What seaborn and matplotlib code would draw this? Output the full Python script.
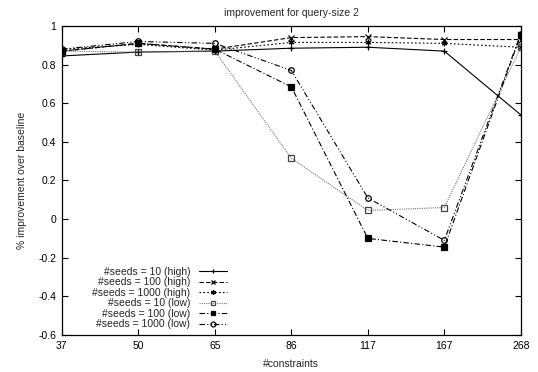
import numpy as np
import pandas as pd
import matplotlib
matplotlib.use("Agg")
import matplotlib.pyplot as plt
import seaborn as sns

# data
constraints = ["37", "50", "65", "86", "117", "167", "268"]
seeds10_high = [0.845, 0.865, 0.87, 0.885, 0.89, 0.87, 0.54]
seeds100_high = [0.87, 0.91, 0.88, 0.94, 0.945, 0.93, 0.93]
seeds1000_high = [0.88, 0.905, 0.875, 0.915, 0.915, 0.91, 0.89]
seeds10_low = [0.87, 0.865, 0.87, 0.315, 0.045, 0.06, 0.89]
seeds100_low = [0.87, 0.91, 0.88, 0.685, -0.10, -0.145, 0.955]
seeds1000_low = [0.88, 0.92, 0.91, 0.77, 0.11, -0.11, 0.96]

series = [
    ("#seeds = 10 (high)", seeds10_high, "-", "+", "black", "black"),
    ("#seeds = 100 (high)", seeds100_high, (0, (4, 2)), "x", "black", "black"),
    ("#seeds = 1000 (high)", seeds1000_high, (0, (1.5, 2)), (6, 2, 0), "black", "black"),
    ("#seeds = 10 (low)", seeds10_low, (0, (1, 1)), "s", "#777777", "none"),
    ("#seeds = 100 (low)", seeds100_low, (0, (5, 2, 1, 2)), "s", "black", "black"),
    ("#seeds = 1000 (low)", seeds1000_low, (0, (5, 2, 1, 2, 1, 2)), "o", "black", "none"),
]

sns.set_style("ticks")
plt.rcParams["font.family"] = ["Liberation Sans", "DejaVu Sans"]
plt.rcParams["font.size"] = 7.5

fig = plt.figure(figsize=(5.38, 3.72), dpi=100)
ax = fig.add_axes([0.115, 0.0995, 0.853, 0.8306])

pos = np.arange(len(constraints))
for label, vals, ls, mk, col, fc in series:
    df = pd.DataFrame({"x": pos, "y": vals})
    sns.lineplot(data=df, x="x", y="y", ax=ax, label=label, color=col,
                 linestyle=ls, linewidth=0.8, marker=mk, markersize=4,
                 markerfacecolor=fc, markeredgecolor=col if col != "#777777" else "#444444",
                 markeredgewidth=0.9)

ax.set_xlim(0, len(constraints) - 1)
ax.set_ylim(-0.6, 1.0)
ax.set_xticks(pos)
ax.set_xticklabels(constraints)
yt = np.arange(-0.6, 1.01, 0.2)
ax.set_yticks(yt)
ax.set_yticklabels(["%g" % round(v, 1) for v in yt])
ax.tick_params(direction="in", length=4, width=0.8, top=True, right=True,
               labelsize=7.5, pad=4, colors="black")
for s in ax.spines.values():
    s.set_linewidth(0.9)
    s.set_color("black")

ax.set_title("improvement for query-size 2", fontsize=7.5, pad=7)
ax.set_xlabel("#constraints", fontsize=7.5, labelpad=6)
ax.set_ylabel("% improvement over baseline", fontsize=7.5, labelpad=8)

leg = ax.legend(loc="lower left", bbox_to_anchor=(0.05, -0.005), frameon=False,
                markerfirst=False, fontsize=7.5, handlelength=2.7,
                handletextpad=0.8, labelspacing=0.05, borderaxespad=0.3)
for h in leg.legend_handles:
    h.set_markersize(3.5)

fig.savefig("out.png", dpi=100)
